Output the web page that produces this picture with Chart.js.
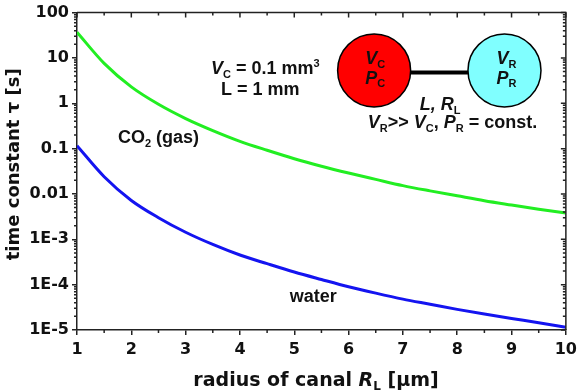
<!DOCTYPE html>
<html lang="en">

<head>
    <meta charset="UTF-8">
    <title>time constant vs radius of canal</title>
    <style>
        body { margin: 0; background: #fff; }
    </style>
</head>
<script src="https://cdn.jsdelivr.net/npm/chart.js"></script>

<body>
    <canvas id="chart_tau" width="582" height="391"></canvas>
</body>

<script>
    // values
    var radius = [1, 1.5, 2, 2.5, 3, 3.5, 4, 4.5, 5, 5.5, 6, 6.5, 7, 7.5, 8, 8.5, 9, 9.5, 10];
    var tauCO2 = [37, 7.6, 2.3, 0.95, 0.46, 0.25, 0.145, 0.092, 0.06, 0.041, 0.029, 0.021,
        0.0153, 0.0117, 0.0091, 0.0071, 0.0057, 0.0046, 0.0038];
    var tauWater = [0.116, 0.024, 0.0072, 0.003, 0.00143, 7.7e-4, 4.5e-4, 2.9e-4, 1.9e-4, 1.3e-4,
        9e-5, 6.5e-5, 4.8e-5, 3.7e-5, 2.85e-5, 2.25e-5, 1.8e-5, 1.45e-5, 1.15e-5];
    var yTickValues = [1e-5, 1e-4, 1e-3, 0.01, 0.1, 1, 10, 100];
    var yTickLabels = ['1E-5', '1E-4', '1E-3', '0.01', '0.1', '1', '10', '100'];

    var AXFONT = '"DejaVu Sans", sans-serif';
    var TXFONT = '"Liberation Sans", Arial, sans-serif';

    function fontFor(r, size, fam) {
        var s = (r.sub || r.sup) ? Math.round(size * 0.62) : size;
        return (r.i ? 'italic ' : '') + 'bold ' + s + 'px ' + fam;
    }

    // centered text made of runs (italic / subscript / superscript)
    function drawRich(ctx, runs, x, y, size, fam) {
        fam = fam || TXFONT;
        var w = 0;
        runs.forEach(r => { ctx.font = fontFor(r, size, fam); w += ctx.measureText(r.t).width; });
        var cx = x - w / 2;
        ctx.textAlign = 'left';
        ctx.textBaseline = 'alphabetic';
        runs.forEach(r => {
            ctx.font = fontFor(r, size, fam);
            var dy = r.sub ? size * 0.2 : (r.sup ? -size * 0.4 : 0);
            ctx.fillText(r.t, cx, y + dy);
            cx += ctx.measureText(r.t).width;
        });
    }

    var extras = {
        id: 'extras',
        afterDraw(chart) {
            var ctx = chart.ctx;
            var a = chart.chartArea;
            var xs = chart.scales.x, ys = chart.scales.y;
            var px = v => xs.getPixelForValue(v);
            var py = v => ys.getPixelForValue(v);
            ctx.save();
            ctx.strokeStyle = '#222';
            ctx.lineWidth = 1.5;

            // frame on top and right
            ctx.beginPath();
            ctx.moveTo(a.left, a.top); ctx.lineTo(a.right, a.top); ctx.lineTo(a.right, a.bottom);
            ctx.stroke();

            // x ticks: minor at halves, mirrored on top (pointing in)
            ctx.beginPath();
            for (var x = 1; x <= 10.001; x += 0.5) {
                var p = px(x);
                var major = Math.abs(x - Math.round(x)) < 1e-6;
                var len = major ? 5 : 3;
                ctx.moveTo(p, a.top); ctx.lineTo(p, a.top + len);
                if (!major) { ctx.moveTo(p, a.bottom); ctx.lineTo(p, a.bottom + len); }
            }
            // y ticks: minor log ticks left (out) and right (in)
            for (var d = 0; d < yTickValues.length; d++) {
                var dec = yTickValues[d];
                var q = py(dec);
                ctx.moveTo(a.right - 5, q); ctx.lineTo(a.right, q);
                if (dec >= 100) continue;
                for (var k = 2; k <= 9; k++) {
                    var m = py(k * dec);
                    ctx.moveTo(a.left - 3, m); ctx.lineTo(a.left, m);
                    ctx.moveTo(a.right - 3, m); ctx.lineTo(a.right, m);
                }
            }
            ctx.stroke();

            ctx.fillStyle = '#111';
            // axis titles
            drawRich(ctx, [{ t: 'radius of canal ' }, { t: 'R', i: true }, { t: 'L', sub: true }, { t: ' [µm]' }],
                316, 386, 19, AXFONT);
            ctx.save();
            ctx.translate(19, (a.top + a.bottom) / 2 - 7);
            ctx.rotate(-Math.PI / 2);
            drawRich(ctx, [{ t: 'time constant τ [s]' }], 0, 0, 18, AXFONT);
            ctx.restore();

            // curve labels
            drawRich(ctx, [{ t: 'CO' }, { t: '2', sub: true }, { t: ' (gas)' }], px(2.5), py(0.1315), 18);
            drawRich(ctx, [{ t: 'water' }], px(5.35), py(4.1e-5), 18);

            drawRich(ctx, [{ t: 'V', i: true }, { t: 'C', sub: true }, { t: ' = 0.1 mm' }, { t: '3', sup: true }],
                px(4.466), py(4.4), 18);
            drawRich(ctx, [{ t: 'L = 1 mm' }], px(4.375), py(1.53), 18);

            // sketch: chamber C and reservoir R joined by the canal
            var cy = py(5.3), r = 36.5;
            var c1 = px(6.47), c2 = px(8.87);
            ctx.lineWidth = 4;
            ctx.strokeStyle = '#000';
            ctx.beginPath();
            ctx.moveTo(c1 + r, cy + 2); ctx.lineTo(c2 - r, cy + 2);
            ctx.stroke();
            ctx.lineWidth = 1.5;
            [[c1, '#ff0000'], [c2, '#80ffff']].forEach(c => {
                ctx.beginPath();
                ctx.arc(c[0], cy, r, 0, Math.PI * 2);
                ctx.fillStyle = c[1];
                ctx.fill();
                ctx.stroke();
            });
            ctx.fillStyle = '#111';
            drawRich(ctx, [{ t: 'V', i: true }, { t: 'C', sub: true }], c1 + 1, py(7.18), 18);
            drawRich(ctx, [{ t: 'P', i: true }, { t: 'C', sub: true }], c1 + 1, py(2.7), 18);
            drawRich(ctx, [{ t: 'V', i: true }, { t: 'R', sub: true }], c2 + 2, py(7.18), 18);
            drawRich(ctx, [{ t: 'P', i: true }, { t: 'R', sub: true }], c2 + 2, py(2.7), 18);

            drawRich(ctx, [{ t: 'L, R', i: true }, { t: 'L', sub: true }], px(7.686), py(0.708), 18);
            drawRich(ctx, [{ t: 'V', i: true }, { t: 'R', sub: true }, { t: '>> ' }, { t: 'V', i: true },
            { t: 'C', sub: true }, { t: ', ' }, { t: 'P', i: true }, { t: 'R', sub: true }, { t: ' = const.' }],
                px(7.914), py(0.28), 18);
            ctx.restore();
        }
    };

    var tickFont = { family: AXFONT, size: 16, weight: 'bold' };

    new Chart(document.getElementById('chart_tau'), {
        type: 'line',
        data: {
            datasets: [
                {
                    label: 'CO2 (gas)',
                    data: radius.map((x, i) => ({ x: x, y: tauCO2[i] })),
                    borderColor: '#22ee22',
                    borderWidth: 3,
                },
                {
                    label: 'water',
                    data: radius.map((x, i) => ({ x: x, y: tauWater[i] })),
                    borderColor: '#1414f0',
                    borderWidth: 3,
                },
            ],
        },
        options: {
            responsive: false,
            animation: false,
            layout: { padding: { top: 10, right: 13, left: 0, bottom: 0 } },
            elements: { point: { radius: 0 }, line: { cubicInterpolationMode: 'monotone' } },
            plugins: { legend: { display: false }, tooltip: { enabled: false } },
            scales: {
                x: {
                    type: 'linear',
                    min: 1,
                    max: 10,
                    ticks: { stepSize: 1, font: tickFont, color: '#111', padding: 5 },
                    grid: { drawOnChartArea: false, color: '#222', lineWidth: 1.5, tickLength: 5 },
                    border: { color: '#222', width: 1.5 },
                    afterFit: s => { s.height = 61; },
                },
                y: {
                    type: 'logarithmic',
                    min: 1e-5,
                    max: 100,
                    afterBuildTicks: s => { s.ticks = yTickValues.map(v => ({ value: v })); },
                    ticks: {
                        autoSkip: false,
                        font: tickFont,
                        color: '#111',
                        padding: 3,
                        callback: v => yTickLabels[yTickValues.indexOf(v)],
                    },
                    grid: { drawOnChartArea: false, color: '#222', lineWidth: 1.5, tickLength: 5 },
                    border: { color: '#222', width: 1.5 },
                    afterFit: s => { s.width = 77; },
                },
            },
        },
        plugins: [extras],
    });
</script>

</html>
